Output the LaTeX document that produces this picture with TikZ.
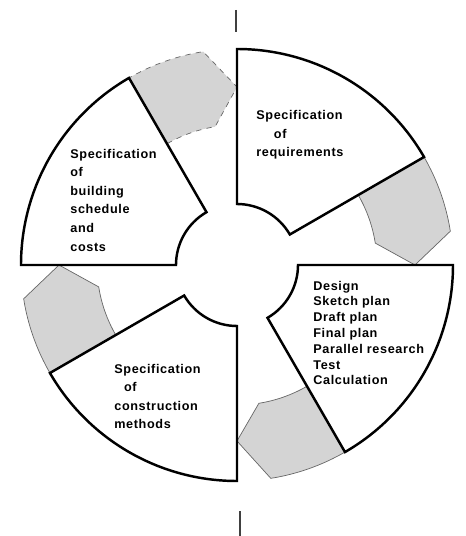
\documentclass[tikz,border=0pt]{standalone}
\usepackage{fontspec}
\newfontfamily\specfont[LetterSpace=5]{Liberation Sans}

\begin{document}
\begin{tikzpicture}[scale=0.02,line join=miter,
    sector/.style={line width=1.4pt},
    flow/.style={draw=black!60,fill=black!17,line width=0.4pt},
    flowdash/.style={flow,dashed},
    spec/.style={font=\specfont\bfseries\fontsize{7.2}{10.6}\selectfont,
      align=left,inner sep=0pt,anchor=north west},
    tick/.style={line width=1pt,black!75}]
  \useasboundingbox (-237,-271) rectangle (228,265);
  % arrows between the stages
  \draw[flow] (30:140) -- (30:216) arc (30:9:216) -- (0:178) -- (9:140) arc (9:30:140) -- cycle;
  \draw[flow] (-60:140) -- (-60:216) arc (-60:-81:216) -- (-90:176) -- (-81:140) arc (-81:-60:140) -- cycle;
  \draw[flow] (210:140) -- (210:216) arc (210:189:216) -- (180:178) -- (189:140) arc (189:210:140) -- cycle;
  \draw[flowdash] (120:140) -- (120:216) arc (120:99:216) -- (90:178) -- (99:140) arc (99:120:140) -- cycle;
  % the four stages
  \draw[sector] (30:61) -- (30:216) arc (30:90:216) -- (90:61) arc (90:30:61) -- cycle;
  \draw[sector] (-60:61) -- (-60:216) arc (-60:0:216) -- (0:61) arc (0:-60:61) -- cycle;
  \draw[sector] (210:61) -- (210:216) arc (210:270:216) -- (270:61) arc (270:210:61) -- cycle;
  \draw[sector] (120:61) -- (120:216) arc (120:180:216) -- (180:61) arc (180:120:61) -- cycle;
  % texts
  \node[spec] (req) at (19,155) {Specification\\\hspace*{10pt}of\\requirements};
  \node[spec] (des) at (76,-15.5) [font=\specfont\bfseries\fontsize{7.2}{9}\selectfont]
    {Design\\Sketch plan\\Draft plan\\Final plan\\Parallel research\\Test\\Calculation};
  \node[spec] (con) at (-123,-98.5) {Specification\\\hspace*{5.5pt}of\\construction\\methods};
  \node[spec] (bud) at (-167,116.5) {Specification\\of\\building\\schedule\\and\\costs};
  % marks on the axis
  \draw[tick] (-1,255) -- (-1,233);
  \draw[tick] (3,-246) -- (3,-271);
\end{tikzpicture}
\end{document}
